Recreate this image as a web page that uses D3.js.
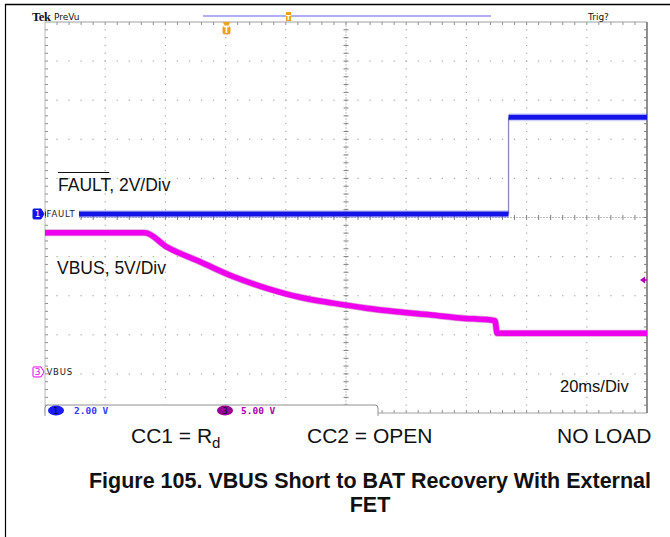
<!DOCTYPE html>
<html>
<head>
<meta charset="utf-8">
<script src="https://cdn.jsdelivr.net/npm/d3@7"></script>
<style>
  body { margin: 0; background: #fff; }
  svg { display: block; }
</style>
</head>
<body>
<svg id="scope" width="670" height="537"></svg>
<script>
// ---- captured waveforms (time in ms, 20 ms/div, 10 divisions) ----
const faultTime  = [0, 154, 154, 200];
const faultVolts = [0, 0, 4.95, 4.95];

const vbusTime  = [0, 33.2, 40.4, 51.5, 62.5, 73.7, 84.7, 95.7, 106.9, 116.9, 127.9, 137.9, 149.5, 150.2, 200];
const vbusVolts = [17.8, 17.8, 16.0, 14.1, 12.2, 10.7, 9.55, 8.8, 8.15, 7.7, 7.3, 6.9, 6.55, 4.95, 4.95];

// channel settings: volts per division and ground position (divisions from centre)
const channels = [
  { id: "1", name: "FAULT", scale: 2, position: 0.09, color: "#1414e6", label: "2.00 V" },
  { id: "3", name: "VBUS",  scale: 5, position: -3.95, color: "#ee00ee", label: "5.00 V" }
];

const timeDomain = [0, 200];
const xDivs = 10, yDivs = 10, minorPerDiv = 5;

const svg = d3.select("#scope");
const gL = 45, gR = 647, gT = 22, gB = 413;

const x = d3.scaleLinear().domain(timeDomain).range([gL, gR]);
const yDiv = d3.scaleLinear().domain([-yDivs / 2, yDivs / 2]).range([gB, gT]);
const chY = ch => v => yDiv(v / ch.scale + ch.position);

// ---- page frame ----
svg.append("line").attr("x1", 5).attr("x2", 670).attr("y1", 4.5).attr("y2", 4.5)
  .attr("stroke", "#000").attr("stroke-width", 1.5);
svg.append("line").attr("x1", 5.5).attr("x2", 5.5).attr("y1", 4).attr("y2", 537)
  .attr("stroke", "#000").attr("stroke-width", 1.2);

// ---- graticule ----
const grid = svg.append("g");
const dx = (gR - gL) / xDivs, dy = (gB - gT) / yDivs;

// dotted division lines
for (let i = 1; i < xDivs; i++) {
  if (i === xDivs / 2) continue;
  const gx = gL + i * dx;
  for (let j = 1; j < yDivs * minorPerDiv; j++) {
    grid.append("rect").attr("x", gx - 0.6).attr("y", gT + j * dy / minorPerDiv - 0.6)
      .attr("width", 1.2).attr("height", 1.2).attr("fill", "#a8a8a8");
  }
}
for (let k = 1; k < yDivs; k++) {
  if (k === yDivs / 2) continue;
  const gy = gT + k * dy;
  for (let j = 1; j < xDivs * minorPerDiv; j++) {
    grid.append("rect").attr("x", gL + j * dx / minorPerDiv - 0.6).attr("y", gy - 0.6)
      .attr("width", 1.2).attr("height", 1.2).attr("fill", "#a8a8a8");
  }
}

// centre crosshair with minor ticks
const cx = gL + dx * xDivs / 2, cy = gT + dy * yDivs / 2;
grid.append("line").attr("x1", cx).attr("x2", cx).attr("y1", gT).attr("y2", gB)
  .attr("stroke", "#b0b0b0").attr("stroke-width", 0.8).attr("stroke-dasharray", "2,1");
grid.append("line").attr("x1", gL).attr("x2", gR).attr("y1", cy).attr("y2", cy)
  .attr("stroke", "#b0b0b0").attr("stroke-width", 0.8).attr("stroke-dasharray", "2,1");
for (let j = 1; j < yDivs * minorPerDiv; j++) {
  const ty = gT + j * dy / minorPerDiv;
  grid.append("line").attr("x1", cx - 2.5).attr("x2", cx + 2.5).attr("y1", ty).attr("y2", ty)
    .attr("stroke", "#808080").attr("stroke-width", 1);
}
for (let j = 1; j < xDivs * minorPerDiv; j++) {
  const tx = gL + j * dx / minorPerDiv;
  grid.append("line").attr("x1", tx).attr("x2", tx).attr("y1", cy - 2.5).attr("y2", cy + 2.5)
    .attr("stroke", "#808080").attr("stroke-width", 1);
}

// outer edge with inward ticks
grid.append("line").attr("x1", gL).attr("x2", gR).attr("y1", gT).attr("y2", gT)
  .attr("stroke", "#a0a0a0").attr("stroke-width", 1);
grid.append("line").attr("x1", gL).attr("x2", gR).attr("y1", gB).attr("y2", gB)
  .attr("stroke", "#a0a0a0").attr("stroke-width", 1);
grid.append("line").attr("x1", gL).attr("x2", gL).attr("y1", gT).attr("y2", gB)
  .attr("stroke", "#b8b8b8").attr("stroke-width", 1);
grid.append("line").attr("x1", gR).attr("x2", gR).attr("y1", gT).attr("y2", gB)
  .attr("stroke", "#606060").attr("stroke-width", 1.4);
for (let j = 1; j < xDivs * minorPerDiv; j++) {
  const tx = gL + j * dx / minorPerDiv;
  grid.append("line").attr("x1", tx).attr("x2", tx).attr("y1", gT).attr("y2", gT + 3)
    .attr("stroke", "#909090");
  grid.append("line").attr("x1", tx).attr("x2", tx).attr("y1", gB - 3).attr("y2", gB)
    .attr("stroke", "#909090");
}
for (let j = 1; j < yDivs * minorPerDiv; j++) {
  const ty = gT + j * dy / minorPerDiv;
  grid.append("line").attr("x1", gL).attr("x2", gL + 3).attr("y1", ty).attr("y2", ty)
    .attr("stroke", "#909090");
  grid.append("line").attr("x1", gR - 3).attr("x2", gR).attr("y1", ty).attr("y2", ty)
    .attr("stroke", "#808080");
}

// ---- traces ----
const ch1 = channels[0], ch3 = channels[1];
const y1 = chY(ch1), y3 = chY(ch3);

const faultPts = faultTime.map((t, i) => [t, faultVolts[i]]);
const vbusPts = vbusTime.map((t, i) => [t, vbusVolts[i]]);

const line1 = d3.line().x(d => x(d[0])).y(d => y1(d[1]));
const line3 = d3.line().x(d => x(d[0])).y(d => y3(d[1])).curve(d3.curveMonotoneX);

// VBUS (channel 3)
svg.append("path").attr("d", line3(vbusPts)).attr("fill", "none")
  .attr("stroke", "#a0008c").attr("stroke-width", 7).attr("stroke-opacity", 0.35);
svg.append("path").attr("d", line3(vbusPts)).attr("fill", "none")
  .attr("stroke", ch3.color).attr("stroke-width", 5.5);

// FAULT (channel 1): low level, thin edge, high level
svg.append("line")
  .attr("x1", x(faultPts[1][0])).attr("x2", x(faultPts[2][0]))
  .attr("y1", y1(faultPts[1][1])).attr("y2", y1(faultPts[2][1]))
  .attr("stroke", "#8a8ab8").attr("stroke-width", 1.3);
[faultPts.slice(0, 2), faultPts.slice(2, 4)].forEach(seg => {
  svg.append("path").attr("d", line1(seg)).attr("fill", "none")
    .attr("stroke", "#4a4af0").attr("stroke-width", 8).attr("stroke-opacity", 0.25);
  svg.append("path").attr("d", line1(seg)).attr("fill", "none")
    .attr("stroke", ch1.color).attr("stroke-width", 5);
});

// ---- channel ground markers and names ----
const fontScope = "DejaVu Sans, sans-serif";
function marker(ch, filled) {
  const gy = chY(ch)(0);
  const g = svg.append("g").attr("transform", `translate(33,${gy})`);
  g.append("path")
    .attr("d", "M1,-5 H8 L11,0 L8,5 H1 Q0,5 0,4 V-4 Q0,-5 1,-5 Z")
    .attr("fill", filled ? ch.color : "#fff")
    .attr("stroke", ch.color).attr("stroke-width", 1);
  g.append("text").attr("x", 4.5).attr("y", 3.5).attr("text-anchor", "middle")
    .attr("font-family", fontScope).attr("font-size", 9)
    .attr("fill", filled ? "#fff" : ch.color).text(ch.id);
  const labelW = ch.name.length * 6.2;
  if (filled) {
    svg.append("rect").attr("x", 46).attr("y", gy - 6).attr("width", labelW + 2).attr("height", 12)
      .attr("fill", "#fff");
  }
  svg.append("text").attr("x", 46.5).attr("y", gy + 3.5)
    .attr("font-family", fontScope).attr("font-size", 8.5)
    .attr("letter-spacing", 0.8).attr("fill", "#222").text(ch.name);
}
marker(ch1, true);
marker(ch3, false);

// trigger level arrow on the right edge
const trigY = 280;
svg.append("path").attr("d", `M${gR - 7},${trigY} L${gR - 2},${trigY - 3.5} L${gR - 2},${trigY + 3.5} Z`)
  .attr("fill", "#b000b0");
svg.append("line").attr("x1", gR - 3).attr("x2", gR).attr("y1", trigY).attr("y2", trigY)
  .attr("stroke", "#b000b0").attr("stroke-width", 1.5);

// ---- header ----
svg.append("text").attr("x", 32).attr("y", 20.5)
  .attr("font-family", "Liberation Serif, serif").attr("font-weight", "bold")
  .attr("font-size", 12.5).attr("fill", "#111").attr("letter-spacing", -0.4).text("Tek");
svg.append("text").attr("x", 54).attr("y", 19.5)
  .attr("font-family", fontScope).attr("font-size", 9).attr("fill", "#111").text("PreVu");
svg.append("text").attr("x", 588).attr("y", 19.5)
  .attr("font-family", fontScope).attr("font-size", 9).attr("fill", "#111").text("Trig?");

// record-length bar with trigger point
svg.append("line").attr("x1", 203).attr("x2", 491).attr("y1", 16).attr("y2", 16)
  .attr("stroke", "#6060f0").attr("stroke-width", 1.2);
svg.append("rect").attr("x", 286).attr("y", 12).attr("width", 5).attr("height", 9)
  .attr("fill", "#f0a020");
svg.append("text").attr("x", 288.5).attr("y", 19.5).attr("text-anchor", "middle")
  .attr("font-family", fontScope).attr("font-size", 7).attr("font-weight", "bold")
  .attr("fill", "#fff").text("T");

// trigger position on the graticule
const trigX = 226.5;
svg.append("path").attr("d", `M${trigX - 4},${gT} H${trigX + 4} L${trigX + 2},${gT + 3} H${trigX - 2} Z`)
  .attr("fill", "#f0a020");
svg.append("rect").attr("x", trigX - 4).attr("y", gT + 3.5).attr("width", 8).attr("height", 9)
  .attr("rx", 2.5).attr("fill", "#f0a020");
svg.append("text").attr("x", trigX).attr("y", gT + 11).attr("text-anchor", "middle")
  .attr("font-family", fontScope).attr("font-size", 8).attr("font-weight", "bold")
  .attr("fill", "#fff").text("T");

// ---- status bar ----
const sb = svg.append("g");
sb.append("path").attr("d", `M${gL},${gB + 3} V${gB - 5} Q${gL},${gB - 8} ${gL + 3},${gB - 8} H375 Q378,${gB - 8} 378,${gB - 5} V${gB + 3}`)
  .attr("fill", "#fff").attr("stroke", "#909090").attr("stroke-width", 1);
[[56, ch1, "#1a1aff", 74], [225, ch3, "#990099", 241]].forEach(([ex, ch, fill, tx]) => {
  sb.append("ellipse").attr("cx", ex).attr("cy", gB - 2.5).attr("rx", 8).attr("ry", 5)
    .attr("fill", fill);
  sb.append("text").attr("x", ex).attr("y", gB + 0.8).attr("text-anchor", "middle")
    .attr("font-family", fontScope).attr("font-size", 8.5).attr("fill", "#111").text(ch.id);
  sb.append("text").attr("x", tx).attr("y", gB + 0.8)
    .attr("font-family", "DejaVu Sans Mono, monospace").attr("font-size", 9.5)
    .attr("font-weight", "bold")
    .attr("fill", ch === ch1 ? "#3a3aff" : "#b000b0").text(ch.label);
});

// ---- annotations ----
const fontAnn = "Liberation Sans, Arial, sans-serif";
const faultLbl = svg.append("text").attr("x", 58).attr("y", 191)
  .attr("font-family", fontAnn).attr("font-size", 17.5).attr("fill", "#111");
faultLbl.append("tspan").text("FAULT");
faultLbl.append("tspan").text(", 2V/Div");
const overW = faultLbl.node().getSubStringLength(0, 5);
svg.append("line").attr("x1", 58).attr("x2", 58 + overW).attr("y1", 172.5).attr("y2", 172.5)
  .attr("stroke", "#111").attr("stroke-width", 1.2);

svg.append("text").attr("x", 57).attr("y", 274)
  .attr("font-family", fontAnn).attr("font-size", 17.5).attr("fill", "#111").text("VBUS, 5V/Div");
svg.append("text").attr("x", 560).attr("y", 392)
  .attr("font-family", fontAnn).attr("font-size", 16.5).attr("fill", "#111").text("20ms/Div");

const cc1 = svg.append("text").attr("x", 131).attr("y", 443)
  .attr("font-family", fontAnn).attr("font-size", 21).attr("fill", "#111");
cc1.append("tspan").text("CC1 = R");
cc1.append("tspan").attr("font-size", 15).attr("dy", 5).text("d");
svg.append("text").attr("x", 307).attr("y", 443)
  .attr("font-family", fontAnn).attr("font-size", 21).attr("fill", "#111").text("CC2 = OPEN");
svg.append("text").attr("x", 557).attr("y", 443)
  .attr("font-family", fontAnn).attr("font-size", 21).attr("fill", "#111").text("NO LOAD");

// ---- caption ----
svg.append("text").attr("x", 370).attr("y", 488).attr("text-anchor", "middle")
  .attr("font-family", fontAnn).attr("font-weight", "bold").attr("font-size", 21.5).attr("fill", "#111")
  .text("Figure 105. VBUS Short to BAT Recovery With External");
svg.append("text").attr("x", 370).attr("y", 512).attr("text-anchor", "middle")
  .attr("font-family", fontAnn).attr("font-weight", "bold").attr("font-size", 21.5).attr("fill", "#111")
  .text("FET");
</script>
</body>
</html>
